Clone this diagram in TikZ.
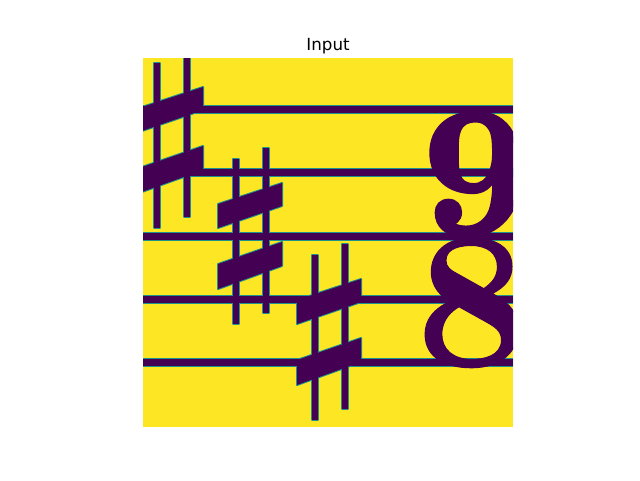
\documentclass[tikz,border=0pt]{standalone}
\usepackage{fontspec}
\newfontfamily\titlefont{DejaVu Sans}
\newfontfamily\nineface{lmroman10-bold.otf}[FakeBold=2.4]
\newfontfamily\eightface{lmroman10-bold.otf}[FakeBold=0.5]
\usepackage{xcolor}
\usepackage{tikz}

\definecolor{viryellow}{HTML}{FDE725}
\definecolor{virpurple}{HTML}{440154}
\definecolor{virteal}{HTML}{21918C}

% staff lines and sharps, drawn once with the rim and once with the ink
\newcommand{\inkshapes}[1]{%
  \foreach \y in {109.5,172.5,236,299,362}
    \path[#1] (143,{\y-3.5}) rectangle (513,{\y+3.5});
  \foreach \l/\t in {139/108,218/204,297/300}{
    \path[#1] ({\l+15},{\t-45}) rectangle ({\l+21},{\t+120});
    \path[#1] ({\l+45},{\t-56}) rectangle ({\l+51},{\t+109});
    \path[#1] (\l,\t) -- ({\l+64},{\t-21}) -- ({\l+64},{\t+2}) -- (\l,{\t+24}) -- cycle;
    \path[#1] (\l,{\t+60}) -- ({\l+64},{\t+38}) -- ({\l+64},{\t+62}) -- (\l,{\t+85}) -- cycle;
  }}

\begin{document}
\begin{tikzpicture}[x=1pt, y=-1pt,
    ink/.style={fill=virpurple},
    rim/.style={draw=virteal, line width=2pt, line join=round},
    digit/.style={inner sep=0pt, align=left, text=virpurple, font=\fontsize{195}{132}\selectfont}]
    \useasboundingbox (0,0) rectangle (640,480);
    % Title
    \node[anchor=base, font=\titlefont\fontsize{16.7}{20}\selectfont] (title) at (328,50) {Input};
    % Image
    \begin{scope}
      \clip (143,58) rectangle (513,427);
      \fill[viryellow] (143,58) rectangle (513,427);
      \inkshapes{rim}
      \inkshapes{ink}
      % Time signature
      \node[digit, anchor=south west] (timesig) at (418.5,368)
        {\hspace*{4pt}\fontsize{184}{132}\selectfont\nineface 9\\\hspace*{-3pt}\eightface 8};
    \end{scope}
\end{tikzpicture}
\end{document}
